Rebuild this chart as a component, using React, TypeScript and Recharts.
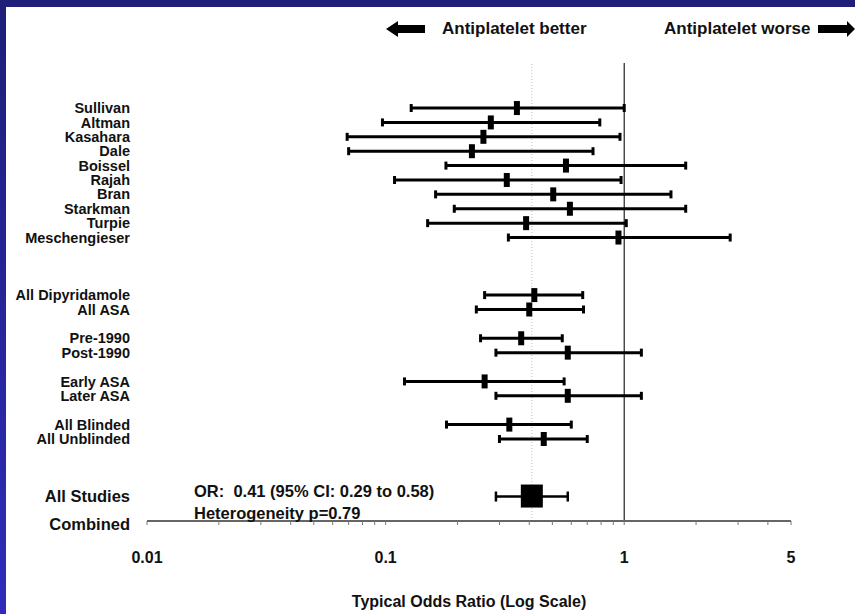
import React from 'react';
import { ScatterChart, Scatter, XAxis, YAxis, ErrorBar, ReferenceLine } from 'recharts';

// ---- Data ----
const studyNames = ['Sullivan', 'Altman', 'Kasahara', 'Dale', 'Boissel', 'Rajah', 'Bran', 'Starkman', 'Turpie', 'Meschengieser'];
const studyOR = [0.355, 0.276, 0.257, 0.23, 0.57, 0.322, 0.504, 0.592, 0.388, 0.946];
const studyLow = [0.128, 0.097, 0.069, 0.07, 0.179, 0.109, 0.162, 0.194, 0.15, 0.327];
const studyHigh = [1.0, 0.79, 0.96, 0.74, 1.81, 0.97, 1.57, 1.81, 1.02, 2.78];

const subgroupNames = ['All Dipyridamole', 'All ASA', 'Pre-1990', 'Post-1990', 'Early ASA', 'Later ASA', 'All Blinded', 'All Unblinded'];
const subgroupOR = [0.42, 0.4, 0.37, 0.58, 0.26, 0.58, 0.33, 0.46];
const subgroupLow = [0.26, 0.24, 0.25, 0.29, 0.12, 0.29, 0.18, 0.3];
const subgroupHigh = [0.67, 0.675, 0.55, 1.18, 0.56, 1.18, 0.6, 0.7];

const pooledLabel = ['All Studies', 'Combined'];
const pooledOR = 0.41;
const pooledLow = 0.29;
const pooledHigh = 0.58;
const pooledNotes = ['OR:  0.41 (95% CI: 0.29 to 0.58)', 'Heterogeneity p=0.79'];

const majorTicks = [0.01, 0.1, 1, 5];
const minorTicks = [0.02, 0.03, 0.04, 0.05, 0.06, 0.07, 0.08, 0.09, 0.2, 0.3, 0.4, 0.5, 0.6, 0.7, 0.8, 0.9, 2, 3, 4];
const xTitle = 'Typical Odds Ratio (Log Scale)';
const betterText = 'Antiplatelet better';
const worseText = 'Antiplatelet worse';

// ---- Derived rows ----
const studyRows = studyNames.map((name, i) => ({
  name,
  or: studyOR[i],
  row: i,
  err: [studyOR[i] - studyLow[i], studyHigh[i] - studyOR[i]],
}));
const subgroupRows = subgroupNames.map((name, i) => ({
  name,
  or: subgroupOR[i],
  row: studyNames.length + 3 + Math.floor(i / 2) * 3 + (i % 2),
  err: [subgroupOR[i] - subgroupLow[i], subgroupHigh[i] - subgroupOR[i]],
}));
const pooledRowIndex = subgroupRows[subgroupRows.length - 1].row + 4;
const pooledRows = [{ name: pooledLabel[0], or: pooledOR, row: pooledRowIndex, err: [pooledOR - pooledLow, pooledHigh - pooledOR] }];

const allRows = [...studyRows, ...subgroupRows];
const rowTicks = [...allRows.map((r) => r.row), pooledRowIndex];
const labelByRow: Record<number, string> = {};
allRows.forEach((r) => { labelByRow[r.row] = r.name; });

const FONT = "'Liberation Sans Narrow', 'Arial Narrow', 'Liberation Sans', Arial, sans-serif";
const INK = '#111';

const RowTick = (props: any) => {
  const { x, y, payload } = props;
  const v = payload.value;
  if (v === pooledRowIndex) {
    return (
      <g fontFamily={FONT} fontWeight="bold" fill={INK}>
        <text x={x} y={y} dy="0.35em" textAnchor="end" fontSize={16.5}>{pooledLabel[0]}</text>
        <text x={x} y={y + 28} dy="0.35em" textAnchor="end" fontSize={16.5}>{pooledLabel[1]}</text>
        <text x={x + 64} y={y - 5} dy="0.35em" textAnchor="start" fontSize={16.5} style={{ whiteSpace: 'pre' }}>{pooledNotes[0]}</text>
        <text x={x + 64} y={y + 17} dy="0.35em" textAnchor="start" fontSize={16.5}>{pooledNotes[1]}</text>
      </g>
    );
  }
  return (
    <text x={x} y={y} dy="0.35em" textAnchor="end" fontSize={14.5} fontFamily={FONT} fontWeight="bold" fill={INK}>
      {labelByRow[v]}
    </text>
  );
};

const StudyMark = (props: any) => {
  const { cx, cy } = props;
  return <rect x={cx - 3} y={cy - 7} width={6} height={14} fill="#000" />;
};
const PooledMark = (props: any) => {
  const { cx, cy } = props;
  return <rect x={cx - 11} y={cy - 12} width={22} height={23} fill="#000" />;
};

const Header = () => (
  <svg width={855} height={60} style={{ position: 'absolute', left: 0, top: 0 }}>
    <g fill="#000">
      <polygon points="386,29 398,21 398,25 425,25 425,33 398,33 398,37" />
      <polygon points="855,29 847,21 847,25 818,25 818,33 847,33 847,37" />
    </g>
    <text x={442} y={28} dy="0.35em" fontSize={17} fontFamily={FONT} fontWeight="bold" fill={INK}>{betterText}</text>
    <text x={664} y={28} dy="0.35em" fontSize={17} fontFamily={FONT} fontWeight="bold" fill={INK}>{worseText}</text>
  </svg>
);

export default function App() {
  return (
    <div
      style={{
        position: 'absolute',
        left: 0,
        top: 0,
        width: 855,
        height: 614,
        background: 'linear-gradient(to bottom, #1f1e78, #2e2cba)',
        overflow: 'hidden',
      }}
    >
      <div style={{ position: 'absolute', left: 6, top: 7, width: 849, height: 607, background: '#fff' }} />
      <Header />
      <div style={{ position: 'absolute', left: 0, top: 0 }}>
        <ScatterChart width={855} height={614} margin={{ top: 63, right: 64, bottom: 0, left: 7 }}>
          <XAxis
            type="number"
            dataKey="or"
            scale="log"
            domain={[0.01, 5]}
            allowDataOverflow
            ticks={[...majorTicks, ...minorTicks].sort((a, b) => a - b)}
            interval={0}
            tickFormatter={(v: number) => (majorTicks.includes(v) ? String(v) : '')}
            tick={{ fontSize: 16, fontFamily: FONT, fontWeight: 'bold', fill: INK }}
            tickSize={4}
            tickMargin={27}
            axisLine={{ stroke: '#666', strokeWidth: 2 }}
            tickLine={{ stroke: '#777' }}
            height={93}
            label={{ value: xTitle, position: 'insideBottom', offset: 7, fontSize: 16, fontFamily: FONT, fontWeight: 'bold', fill: INK }}
          />
          <YAxis
            type="number"
            dataKey="row"
            domain={[-3.13, 28.7]}
            allowDataOverflow
            reversed
            ticks={rowTicks}
            interval={0}
            width={140}
            axisLine={false}
            tickLine={false}
            tickSize={0}
            tickMargin={17}
            tick={<RowTick />}
          />
          <ReferenceLine x={pooledOR} stroke="#bbb" strokeWidth={1} strokeDasharray="1 2" />
          <ReferenceLine x={1} stroke="#222" strokeWidth={1.2} />
          <Scatter data={allRows} shape={<StudyMark />} isAnimationActive={false}>
            <ErrorBar dataKey="err" direction="x" stroke="#000" strokeWidth={3} width={4} isAnimationActive={false} />
          </Scatter>
          <Scatter data={pooledRows} shape={<PooledMark />} isAnimationActive={false}>
            <ErrorBar dataKey="err" direction="x" stroke="#000" strokeWidth={2.5} width={5} isAnimationActive={false} />
          </Scatter>
        </ScatterChart>
      </div>
    </div>
  );
}
